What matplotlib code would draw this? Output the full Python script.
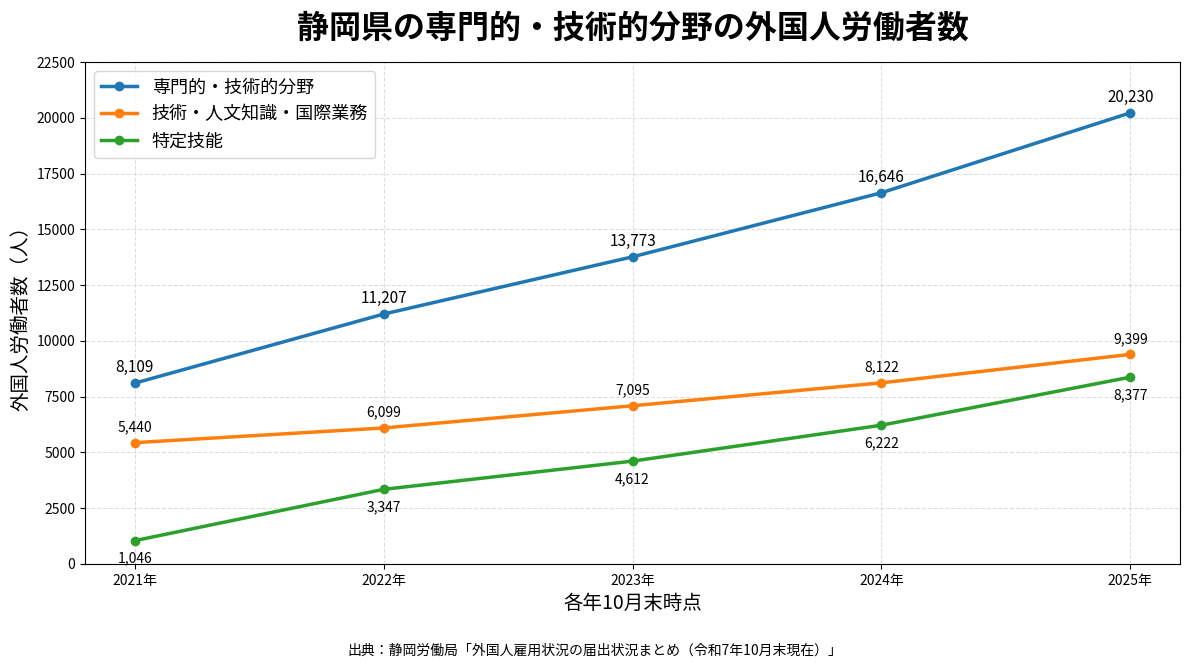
import matplotlib
matplotlib.use('Agg')
import matplotlib.pyplot as plt

plt.rcParams['font.family'] = ['Noto Sans CJK JP', 'DejaVu Sans']

years = ['2021年', '2022年', '2023年', '2024年', '2025年']
senmon = [8109, 11207, 13773, 16646, 20230]
gijutsu = [5440, 6099, 7095, 8122, 9399]
tokutei = [1046, 3347, 4612, 6222, 8377]

fig = plt.figure(figsize=(11.89, 6.69), dpi=100)
ax = fig.add_axes([0.0715, 0.157, 0.921, 0.75])

x = range(len(years))
ax.plot(x, senmon, marker='o', linewidth=2.5, color='#1f77b4', label='専門的・技術的分野')
ax.plot(x, gijutsu, marker='o', linewidth=2.5, color='#ff7f0e', label='技術・人文知識・国際業務')
ax.plot(x, tokutei, marker='o', linewidth=2.5, color='#2ca02c', label='特定技能')

for i, v in enumerate(senmon):
    ax.annotate(f'{v:,}', (i, v), textcoords='offset points', xytext=(0, 5),
                ha='center', va='bottom', fontsize=11)
for i, v in enumerate(gijutsu):
    ax.annotate(f'{v:,}', (i, v), textcoords='offset points', xytext=(0, 6),
                ha='center', va='bottom', fontsize=10)
for i, v in enumerate(tokutei):
    ax.annotate(f'{v:,}', (i, v), textcoords='offset points', xytext=(0, -8),
                ha='center', va='top', fontsize=10)

ax.set_xticks(list(x))
ax.set_xticklabels(years)
ax.set_ylim(0, 22500)
ax.set_yticks(range(0, 22501, 2500))
ax.tick_params(labelsize=10)
ax.grid(True, linestyle='--', alpha=0.4)

ax.set_xlabel('各年10月末時点', fontsize=14)
ax.set_ylabel('外国人労働者数（人）', fontsize=14)
ax.set_title('静岡県の専門的・技術的分野の外国人労働者数', fontsize=23, fontweight='bold', pad=18)
ax.legend(loc='upper left', fontsize=13)

fig.text(0.5, 0.027, '出典：静岡労働局「外国人雇用状況の届出状況まとめ（令和7年10月末現在）」',
         ha='center', va='center', fontsize=10)

fig.savefig('out.png', dpi=100)
